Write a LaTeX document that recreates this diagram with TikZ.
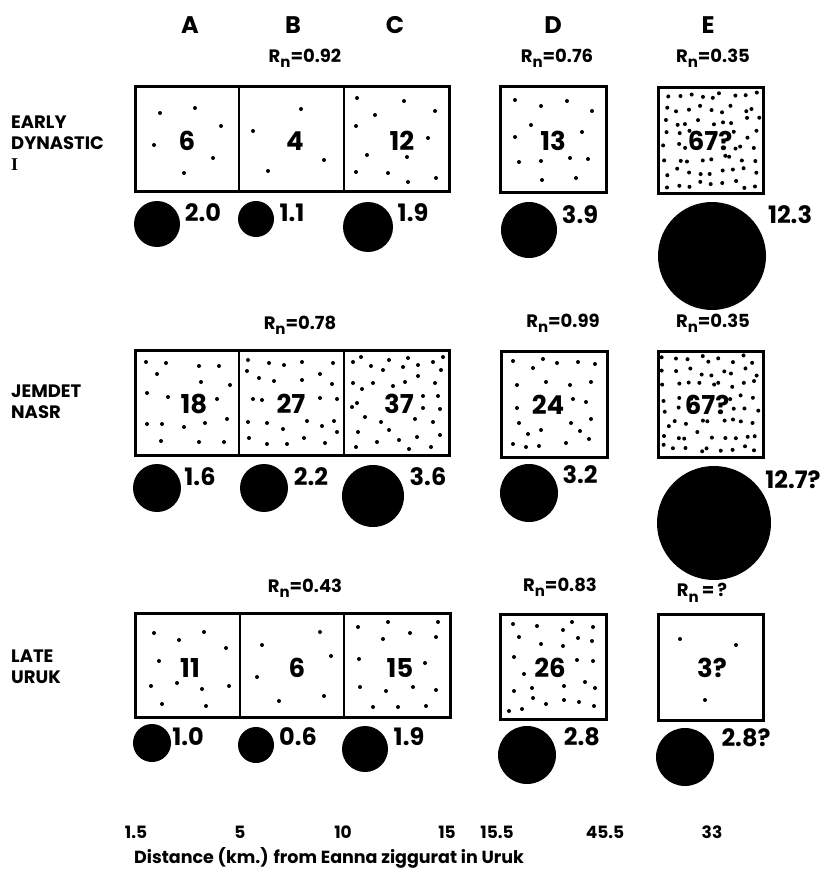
\documentclass[tikz,border=0pt]{standalone}
\usepackage{fontspec}
\setmainfont{Poppins}
\newfontfamily\serifI{Liberation Serif}
\newcommand\Rn{R\raisebox{-0.3em}{\fontsize{15}{15}\selectfont n}}
\newcommand\dotset[1]{\foreach \px/\py in {#1} \fill (\px,\py) circle[radius=2pt];}
\newcommand\dotgrid[5]{%
  \pgfmathsetseed{#5}%
  \foreach \i in {0,...,8}{\foreach \j in {0,...,7}{%
    \pgfmathsetmacro\cxx{#1+(\i+0.5)*#3/9+4*rand}%
    \pgfmathsetmacro\cyy{#2+(\j+0.5)*#4/8+4*rand}%
    \pgfmathtruncatemacro\myskp{(abs(\i-4)<=1 && abs(\j-3.5)<1) ? 1 : 0}%
    \ifnum\myskp=0 \fill (\cxx,\cyy) circle[radius=2pt];\fi
  }}}
\begin{document}
\begin{tikzpicture}[x=1pt,y=-1pt,
  num/.style={font=\bfseries\fontsize{26}{26}\selectfont, inner sep=0pt},
  val/.style={font=\bfseries\fontsize{24}{24}\selectfont, inner sep=0pt},
  col/.style={font=\bfseries\fontsize{24}{24}\selectfont, inner sep=0pt},
  rn/.style={font=\bfseries\fontsize{18}{18}\selectfont, inner sep=0pt},
  rowlab/.style={font=\bfseries\fontsize{18}{21}\selectfont, anchor=west, align=left, inner sep=0pt},
  dist/.style={font=\bfseries\fontsize{17}{17}\selectfont, inner sep=0pt},
  frame/.style={line width=3pt},
  divider/.style={line width=1.8pt},
  blob/.style={circle, fill=black, inner sep=0pt, draw=none}]
\useasboundingbox[fill=white] (0,0) rectangle (823,872);

% column letters
\node[col] (lA) at (190,25) {A};
\node[col] (lB) at (293,25) {B};
\node[col] (lC) at (395,25) {C};
\node[col] (lD) at (553,25) {D};
\node[col] (lE) at (708,25) {E};

% row labels
\node[rowlab] (r1) at (11,143) {EARLY\\DYNASTIC\\{\serifI\bfseries I}};
\node[rowlab] (r2) at (11,402) {JEMDET\\NASR};
\node[rowlab] (r3) at (11,667) {LATE\\URUK};

% ================= Row 1: Early Dynastic I
\node[rn] (rn1abc) at (305,58) {\Rn=0.92};
\node[rn] (rn1d) at (557,58) {\Rn=0.76};
\node[rn] (rn1e) at (713,58) {\Rn=0.35};
\draw[divider] (239,87) -- (239,191);
\draw[divider] (344,87) -- (344,191);
\draw[frame] (135,87) rectangle (449,191);
\draw[frame] (500,87) rectangle (606,192);
\draw[frame] (658,88) rectangle (763,193);
\dotset{160/113,195/108,221/126,154/145,213/158,184/173}
\dotset{301/109,253/131,324/160,268/171}
\dotset{357/98,404/101,375/115,356/126,367/155,407/157,356/172,388/173,408/182,435/111,428/138,436/178}
\dotset{515/100,541/106,567/101,592/111,531/125,515/137,582/132,519/162,541/161,570/158,588/159,542/180,576/178}
\dotgrid{660}{90}{101}{101}{11}
\node[num] (n1a) at (187,141) {6};
\node[num] (n1b) at (295,141) {4};
\node[num] (n1c) at (402,141) {12};
\node[num] (n1d) at (553,141) {13};
\node[num] (n1e) at (710,141) {67?};
\node[blob, minimum size=46pt] (c1a) at (157,224) {};
\node[blob, minimum size=36pt] (c1b) at (256,219) {};
\node[blob, minimum size=50pt] (c1c) at (368,227) {};
\node[blob, minimum size=56pt] (c1d) at (529,230) {};
\node[blob, minimum size=108pt] (c1e) at (712,256) {};
\node[val] (v1a) at (203,213) {2.0};
\node[val] (v1b) at (292,213) {1.1};
\node[val] (v1c) at (413,213) {1.9};
\node[val] (v1d) at (580,215) {3.9};
\node[val] (v1e) at (790,215) {12.3};

% ================= Row 2: Jemdet Nasr
\node[rn] (rn2abc) at (300,325) {\Rn=0.78};
\node[rn] (rn2d) at (563,323) {\Rn=0.99};
\node[rn] (rn2e) at (713,323) {\Rn=0.35};
\draw[divider] (239,350) -- (239,455);
\draw[divider] (344,350) -- (344,455);
\draw[frame] (135,350) rectangle (449,455);
\draw[frame] (501,351) rectangle (607,457);
\draw[frame] (658,351) rectangle (763,457);
\dotset{146/362,166/363,157/374,199/366,219/366,201/382,230/385,147/393,168/397,217/399,227/419,147/424,162/424,184/427,205/423,161/441,199/442,224/442}
\dotset{248/360,269/363,284/365,302/362,333/363,247/371,259/378,274/381,302/380,320/374,332/384,253/399,262/400,320/398,337/399,248/422,267/423,307/421,322/426,334/421,283/429,337/432,249/438,267/444,287/444,304/438,325/443}
\dotset{353/362,361/357,371/366,383/370,389/360,403/367,408/358,418/365,418/376,353/383,362/389,373/383,393/386,405/382,352/407,357/403,365/417,381/422,415/419,358/432,389/430,417/437,356/447,377/442,399/440,409/449,443/357,433/362,441/370,435/383,423/396,438/396,423/408,440/409,433/422,440/435,431/447}
\dotset{513/361,533/368,543/359,557/363,578/362,595/364,517/385,546/382,570/385,591/382,573/399,586/402,517/408,591/419,519/423,571/423,528/434,541/430,580/431,589/439,513/444,526/447,539/446,566/443}
\dotgrid{660}{353}{101}{102}{23}
\node[num] (n2a) at (194,404) {18};
\node[num] (n2b) at (291,404) {27};
\node[num] (n2c) at (399,404) {37};
\node[num] (n2d) at (548,405) {24};
\node[num] (n2e) at (707,405) {67?};
\node[blob, minimum size=48pt] (c2a) at (157,488) {};
\node[blob, minimum size=48pt] (c2b) at (264,488) {};
\node[blob, minimum size=62pt] (c2c) at (373,496) {};
\node[blob, minimum size=58pt] (c2d) at (529,493) {};
\node[blob, minimum size=114pt] (c2e) at (714,523) {};
\node[val] (v2a) at (200,477) {1.6};
\node[val] (v2b) at (311,477) {2.2};
\node[val] (v2c) at (428,477) {3.6};
\node[val] (v2d) at (580,475) {3.2};
\node[val] (v2e) at (793,480) {12.7?};

% ================= Row 3: Late Uruk
\node[rn] (rn3abc) at (305,588) {\Rn=0.43};
\node[rn] (rn3d) at (560,587) {\Rn=0.83};
\node[rn] (rn3e) at (702,593) {\Rn\,=\,?};
\draw[divider] (240,613) -- (240,717);
\draw[divider] (344,613) -- (344,717);
\draw[frame] (135,613) rectangle (450,717);
\draw[frame] (500,614) rectangle (606,719);
\draw[frame] (658,614) rectangle (763,720);
\dotset{154/633,179/640,204/632,226/648,159/661,151/686,177/683,202/689,229/686,162/704,206/706}
\dotset{320/632,262/645,331/656,257/677,324/696,279/701}
\dotset{358/627,388/622,410/633,383/639,359/659,360/687,386/691,413/687,373/707,398/707,438/622,436/637,425/663,436/690,426/706}
\dotset{513/624,537/626,563/630,572/622,593/627,519/637,541/644,563/646,578/638,592/641,514/657,577/660,593/661,524/674,532/688,564/686,585/682,595/688,514/691,533/698,546/704,564/700,579/702,594/706,509/711,522/709}
\dotset{680/639,736/645,705/700}
\node[num] (n3a) at (190,668) {11};
\node[num] (n3b) at (297,668) {6};
\node[num] (n3c) at (400,668) {15};
\node[num] (n3d) at (550,668) {26};
\node[num] (n3e) at (712,668) {3?};
\node[blob, minimum size=38pt] (c3a) at (152,743) {};
\node[blob, minimum size=36pt] (c3b) at (256,745) {};
\node[blob, minimum size=46pt] (c3c) at (365,749) {};
\node[blob, minimum size=58pt] (c3d) at (527,755) {};
\node[blob, minimum size=58pt] (c3e) at (685,757) {};
\node[val] (v3a) at (188,737) {1.0};
\node[val] (v3b) at (298,737) {0.6};
\node[val] (v3c) at (409,737) {1.9};
\node[val] (v3d) at (582,737) {2.8};
\node[val] (v3e) at (746,738) {2.8?};

% ================= distance axis
\node[dist] (d1) at (136,832) {1.5};
\node[dist] (d2) at (240,832) {5};
\node[dist] (d3) at (343,832) {10};
\node[dist] (d4) at (447,832) {15};
\node[dist] (d5) at (497,832) {15.5};
\node[dist] (d6) at (605,832) {45.5};
\node[dist] (d7) at (712,832) {33};
\node[dist, anchor=west, font=\bfseries\fontsize{17.5}{18}\selectfont] (dl) at (134,858) {Distance (km.) from Eanna ziggurat in Uruk};
\end{tikzpicture}
\end{document}
